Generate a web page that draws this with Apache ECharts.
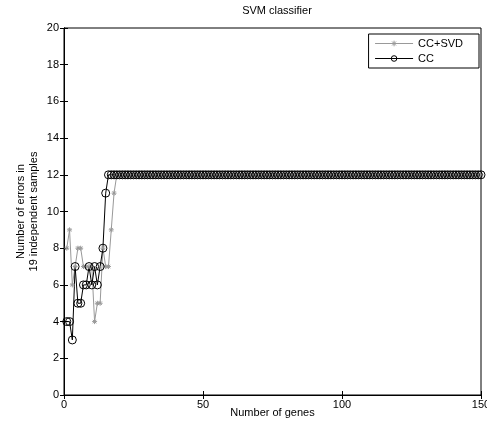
<!DOCTYPE html>
<html>
<head>
<meta charset="utf-8">
<script src="https://cdn.jsdelivr.net/npm/echarts@6/dist/echarts.min.js"></script>
<style>
  html, body { margin: 0; padding: 0; background: #fff; }
  #chart { width: 487px; height: 428px; }
</style>
</head>
<body>
<div id="chart"></div>
<script>
// number of errors for gene counts 1..150
const ccSvd = [
  8, 9, 6, 7, 8, 8, 7, 7, 7, 7, 4, 5, 5, 8, 7, 7, 9, 11,
  12, 12, 12, 12, 12, 12, 12, 12, 12, 12, 12, 12, 12, 12, 12,
  12, 12, 12, 12, 12, 12, 12, 12, 12, 12, 12, 12, 12, 12, 12,
  12, 12, 12, 12, 12, 12, 12, 12, 12, 12, 12, 12, 12, 12, 12,
  12, 12, 12, 12, 12, 12, 12, 12, 12, 12, 12, 12, 12, 12, 12,
  12, 12, 12, 12, 12, 12, 12, 12, 12, 12, 12, 12, 12, 12, 12,
  12, 12, 12, 12, 12, 12, 12, 12, 12, 12, 12, 12, 12, 12, 12,
  12, 12, 12, 12, 12, 12, 12, 12, 12, 12, 12, 12, 12, 12, 12,
  12, 12, 12, 12, 12, 12, 12, 12, 12, 12, 12, 12, 12, 12, 12,
  12, 12, 12, 12, 12, 12, 12, 12, 12, 12, 12, 12
];
const cc = [
  4, 4, 3, 7, 5, 5, 6, 6, 7, 6, 7, 6, 7, 8, 11,
  12, 12, 12, 12, 12, 12, 12, 12, 12, 12, 12, 12, 12, 12, 12,
  12, 12, 12, 12, 12, 12, 12, 12, 12, 12, 12, 12, 12, 12, 12,
  12, 12, 12, 12, 12, 12, 12, 12, 12, 12, 12, 12, 12, 12, 12,
  12, 12, 12, 12, 12, 12, 12, 12, 12, 12, 12, 12, 12, 12, 12,
  12, 12, 12, 12, 12, 12, 12, 12, 12, 12, 12, 12, 12, 12, 12,
  12, 12, 12, 12, 12, 12, 12, 12, 12, 12, 12, 12, 12, 12, 12,
  12, 12, 12, 12, 12, 12, 12, 12, 12, 12, 12, 12, 12, 12, 12,
  12, 12, 12, 12, 12, 12, 12, 12, 12, 12, 12, 12, 12, 12, 12,
  12, 12, 12, 12, 12, 12, 12, 12, 12, 12, 12, 12, 12, 12, 12
];
const seriesNames = ['CC+SVD', 'CC'];
const xTicks = [0, 50, 100, 150];
const yTicks = [0, 2, 4, 6, 8, 10, 12, 14, 16, 18, 20];

const font = '"Liberation Sans", Arial, sans-serif';
const starPath = 'path://M5,0L5,10M0,5L10,5M1.5,1.5L8.5,8.5M1.5,8.5L8.5,1.5';

function pairs(vals) {
  return vals.map((v, i) => [i + 1, v]);
}

const chart = echarts.init(document.getElementById('chart'), null, { renderer: 'canvas' });

const axisLabel = { color: '#000', fontFamily: font, fontSize: 11 };

chart.setOption({
  animation: false,
  backgroundColor: '#fff',
  title: {
    text: 'SVM classifier',
    left: 272,
    textAlign: 'center',
    top: 0,
    textStyle: { fontFamily: font, fontSize: 11, fontWeight: 'normal', color: '#000' }
  },
  grid: {
    left: 64, right: 6, top: 28, bottom: 33,
    containLabel: false, outerBoundsMode: 'none',
    show: true, borderColor: '#000', borderWidth: 1, backgroundColor: 'transparent'
  },
  legend: {
    orient: 'vertical',
    right: 8, top: 34,
    itemWidth: 38, itemHeight: 7, itemGap: 4,
    padding: [4, 16, 4, 6],
    borderColor: '#000', borderWidth: 1, borderRadius: 0,
    backgroundColor: '#fff',
    textStyle: { fontFamily: font, fontSize: 11, color: '#000' },
    data: [{
      name: seriesNames[0],
      itemStyle: { color: 'transparent', borderColor: '#999', borderWidth: 1 },
      lineStyle: { color: '#999', width: 1 }
    }, {
      name: seriesNames[1],
      itemStyle: { color: 'transparent', borderColor: '#000', borderWidth: 1 },
      lineStyle: { color: '#000', width: 1 }
    }]
  },
  xAxis: [{
    type: 'value', min: xTicks[0], max: xTicks[xTicks.length - 1], interval: 50,
    name: 'Number of genes', nameLocation: 'middle', nameGap: 12, nameMoveOverlap: false,
    nameTextStyle: { fontFamily: font, fontSize: 11, color: '#000' },
    axisLine: { lineStyle: { color: '#000' } },
    axisTick: { inside: true, length: 4, lineStyle: { color: '#000' } },
    axisLabel: Object.assign({ margin: 4, showMaxLabel: true }, axisLabel),
    splitLine: { show: false }
  }, {
    type: 'value', position: 'top', min: 0, max: 150, interval: 50,
    axisLine: { lineStyle: { color: '#000' } },
    axisTick: { inside: true, length: 4, lineStyle: { color: '#000' } },
    axisLabel: { show: false }, splitLine: { show: false }
  }],
  yAxis: [{
    type: 'value', min: yTicks[0], max: yTicks[yTicks.length - 1], interval: 2,
    name: 'Number of errors in\n19 independent samples', nameLocation: 'middle', nameGap: 24, nameMoveOverlap: false,
    nameTextStyle: { fontFamily: font, fontSize: 11, color: '#000', lineHeight: 13 },
    axisLine: { lineStyle: { color: '#000' } },
    axisTick: { inside: true, length: 4, lineStyle: { color: '#000' } },
    axisLabel: Object.assign({ margin: 5 }, axisLabel),
    splitLine: { show: false }
  }, {
    type: 'value', position: 'right', min: 0, max: 20, interval: 2,
    axisLine: { lineStyle: { color: '#000' } },
    axisTick: { inside: true, length: 4, lineStyle: { color: '#000' } },
    axisLabel: { show: false }, splitLine: { show: false }
  }],
  series: [{
    name: seriesNames[0],
    type: 'line',
    data: pairs(ccSvd),
    symbol: starPath,
    symbolSize: 5,
    showAllSymbol: true,
    lineStyle: { color: '#999', width: 1 },
    itemStyle: { color: 'transparent', borderColor: '#999', borderWidth: 1 }
  }, {
    name: seriesNames[1],
    type: 'line',
    data: pairs(cc),
    symbol: 'circle',
    symbolSize: 8,
    showAllSymbol: true,
    lineStyle: { color: '#000', width: 1 },
    itemStyle: { color: 'transparent', borderColor: '#000', borderWidth: 1 }
  }]
});
</script>
</body>
</html>
